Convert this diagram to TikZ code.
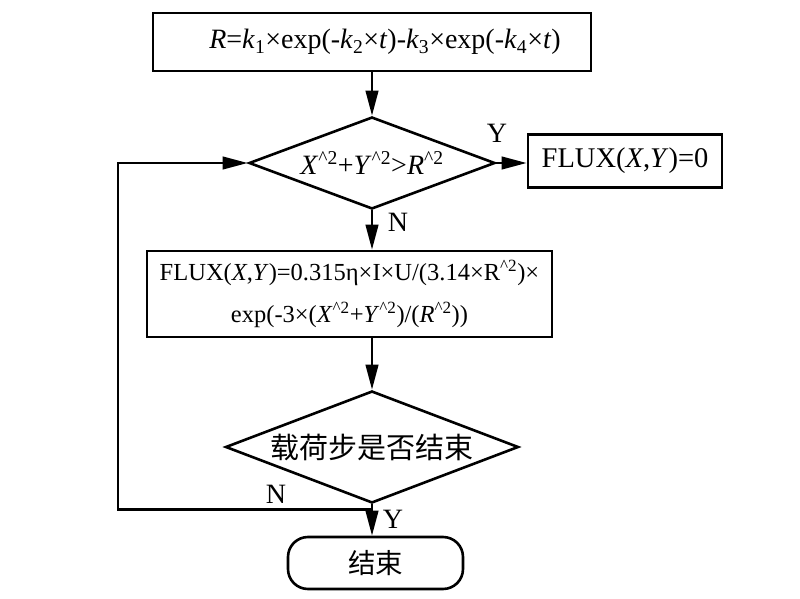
\documentclass[tikz,border=0pt]{standalone}
\usepackage{fontspec}
\setmainfont{Liberation Serif}
\newfontfamily\cjk{Noto Sans CJK SC}
\usetikzlibrary{shapes.geometric,arrows.meta}
\newcommand\psq{\textsuperscript{\textasciicircum 2}}
\begin{document}
\begin{tikzpicture}[x=1pt,y=-1pt,line width=2.6pt,
  arr/.style={-{Triangle[length=25pt,width=12.5pt]}},
  boxn/.style={draw,rectangle,inner sep=0pt,align=center},
  dia/.style={draw,diamond,inner sep=0pt},
  lbl/.style={inner sep=0pt,font=\fontsize{28}{34}\selectfont}]
\useasboundingbox (0,0) rectangle (800,599);
\node[boxn,minimum width=438pt,minimum height=58pt,font=\fontsize{28}{34}\selectfont] (top) at (372,42)
  {\hspace*{26pt}\textit{R}=\textit{k}\textsubscript{1}×exp(-\textit{k}\textsubscript{2}×\textit{t})-\textit{k}\textsubscript{3}×exp(-\textit{k}\textsubscript{4}×\textit{t})};
\node[dia,aspect=2.67,minimum width=246pt,minimum height=92pt,font=\fontsize{28}{34}\selectfont] (d1) at (372,163)
  {\textit{X}\psq+\textit{Y}\psq>\textit{R}\psq};
\node[boxn,minimum width=194pt,minimum height=53pt,font=\fontsize{28.5}{34}\selectfont] (f0) at (625,161)
  {FLUX(\textit{X},\textit{Y})=0};
\node[boxn,minimum width=405pt,minimum height=86pt,font=\fontsize{24.5}{42}\selectfont] (b2) at (349.5,294)
  {FLUX(\textit{X},\textit{Y})=0.315η×I×U/(3.14×R\psq)×\\exp(-3×(\textit{X}\psq+\textit{Y}\psq)/(\textit{R}\psq))};
\node[dia,aspect=2.62,minimum width=293pt,minimum height=112pt,font=\fontsize{29}{34}\selectfont\cjk] (d2) at (372,447)
  {载荷步是否结束};
\node[boxn,rounded corners=20pt,minimum width=175pt,minimum height=52pt,font=\fontsize{27.5}{34}\selectfont\cjk] (end) at (375.5,563)
  {结束};
\node[lbl] (ly1) at (497,133) {Y};
\node[lbl] (ln1) at (398,222) {N};
\node[lbl] (ln2) at (276,494) {N};
\node[lbl] (ly2) at (393,519) {Y};
\coordinate (j) at ([yshift=-5pt]d2.south);
\coordinate (lp) at (118,0);
\draw[arr] (top.south) -- (top.south |- d1.north);
\draw[arr] (d1.east) -- (d1.east -| f0.west);
\draw[arr] (d1.south) -- (d1.south |- b2.north);
\draw[arr] (d2.north |- b2.south) -- (d2.north);
\draw[arr] (d2.south) -- (d2.south |- end.north);
\draw[arr] (j) -- (j -| lp) -- (lp |- d1.west) -- (d1.west);
\end{tikzpicture}
\end{document}
